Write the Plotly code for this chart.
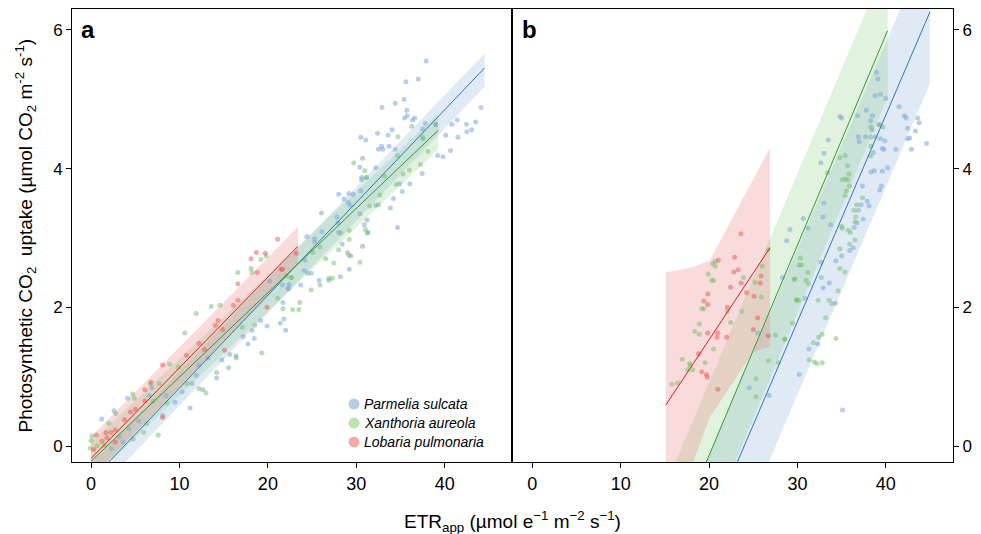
import plotly.graph_objects as go

# ---------------- data ----------------
# panel a : Parmelia sulcata
a_ps_x = [1.2, 2.6, 4.15, 11.2, 8.1, 9.5, 10.3, 12.65, 15.55, 14.2, 16.4, 15.7, 17.75, 18.45, 18.2, 19.9,
          21.4, 22.0, 21.8, 19.2, 21.7, 22.4, 22.3, 20.2, 11.9, 11.4, 6.9, 6.6, 5.4, 4.3, 3.2, 2.3, 3.6,
          8.5, 13.2, 12.2, 14.8, 17.2,
          37.9, 37.0, 35.6, 35.4, 34.4, 32.9, 35.7, 35.75, 35.45, 36.35, 36.6, 37.8, 38.98, 41.4, 40.8,
          42.46, 43.5, 43.05, 42.5, 44.1, 41.5, 40.1, 40.65, 39.8, 39.2, 37.5, 37.55, 34.05, 33.6, 32.4,
          30.5, 31.07, 32.85, 32.5, 33.7, 33.0, 34.4, 32.2, 30.7, 30.4, 30.6, 30.6, 31.15, 37.45, 36.05,
          34.9, 35.2, 34.2, 33.85, 32.2, 30.5, 29.65, 29.15, 28.6, 28.0, 29.1, 29.3, 26.06, 27.8, 27.95,
          30.4, 31.2, 30.9, 31.3, 34.65, 26.1, 25.3, 24.4, 25.3, 28.0, 28.4, 30.7, 29.15, 29.2, 28.2, 26.9,
          25.8, 24.5, 24.9, 24.1, 23.7, 22.3, 21.65, 24.2]
a_ps_y = [0.39, 0.51, 0.69, 0.55, 0.44, 0.63, 0.78, 0.81, 1.13, 0.98, 1.30, 1.32, 1.47, 1.55, 1.67, 1.73,
          1.77, 1.67, 1.83, 1.81, 2.07, 2.33, 2.27, 2.38, 1.02, 0.90, 0.84, 0.73, 0.36, 0.25, 0.13, -0.04, 0.06,
          0.73, 1.27, 1.17, 1.24, 1.58,
          5.55, 5.29, 5.25, 5.00, 4.94, 4.88, 4.84, 4.76, 4.73, 4.70, 4.73, 4.65, 4.64, 4.70, 4.64,
          4.64, 4.67, 4.56, 4.53, 4.88, 4.45, 4.48, 4.26, 4.17, 4.19, 4.57, 4.43, 4.56, 4.48, 4.51,
          4.45, 4.41, 4.32, 4.28, 4.32, 4.28, 4.28, 4.01, 4.15, 4.02, 3.87, 3.84, 3.87, 3.93, 3.78,
          3.78, 3.67, 3.57, 3.43, 3.47, 3.68, 3.63, 3.64, 3.56, 3.63, 3.51, 3.47, 3.36, 3.30, 3.22,
          3.35, 3.26, 3.19, 3.08, 3.15, 3.09, 2.99, 3.02, 2.94, 3.08, 2.91, 2.88, 2.75, 2.55, 2.44, 2.39,
          2.39, 2.49, 2.49, 2.53, 2.32, 2.27, 2.32, 2.68]

# panel a : Xanthoria aureola
a_xa_x = [16.6, 18.1, 18.2, 19.2, 19.8, 13.6, 14.6, 11.9, 10.6, 8.9, 4.7, 4.9, 6.7, 7.7, 2.0, 2.8, 5.95,
          7.6, 4.75, 0.1, 0.0, -0.1, 0.7, 1.5, 12.2, 13.0, 14.2, 16.4, 19.3, 18.5, 17.1, 21.7, 22.8, 23.5,
          23.6, 21.1, 22.6, 22.1, 6.3, 8.6, 7.0, 9.9, 10.85,
          29.7, 30.96, 31.15, 34.7, 34.65, 36.27, 37.5, 37.25, 38.1, 38.98, 36.0, 35.3, 34.5, 33.2, 32.65,
          32.5, 31.5, 31.03, 31.26, 29.19, 29.19, 28.25, 30.4, 29.4, 29.0, 28.0, 27.45, 26.55, 25.9, 25.1,
          26.9, 27.3, 25.9, 24.9, 22.7]
a_xa_y = [2.50, 2.56, 2.50, 2.69, 2.74, 2.01, 2.03, 1.91, 1.63, 1.18, 0.75, 0.69, 0.89, 0.90, 0.33, 0.47, 0.20,
          0.16, 0.10, 0.15, 0.08, -0.03, 0.00, 0.01, 0.83, 0.77, 1.06, 1.27, 1.34, 1.74, 1.71, 1.98, 1.97, 1.97,
          2.07, 2.13, 2.43, 2.45, 0.32, 0.62, 0.65, 1.14, 0.90,
          4.08, 3.97, 3.87, 4.46, 4.19, 4.61, 4.45, 4.06, 4.25, 4.63, 3.98, 3.92, 3.77, 3.89, 3.62,
          3.48, 3.46, 3.12, 3.07, 3.11, 2.98, 3.07, 2.65, 2.74, 2.79, 2.83, 2.64, 2.70, 2.87, 2.79,
          2.42, 2.42, 2.32, 2.25, 2.43]

# panel a : Lobaria pulmonaria
a_lp_x = [21.1, 18.7, 18.1, 19.7, 18.8, 16.6, 16.6, 16.1, 14.35, 14.05, 14.9, 12.2, 12.85, 15.1, 10.8, 8.1,
          6.1, 6.1, 5.0, 4.45, 3.8, 2.75, 2.26, 1.7, 0.6, 1.24, 1.8, 2.75, 0.3, 8.1, 21.5, 19.9, 6.8, 23.2, 21.65]
a_lp_y = [2.98, 2.79, 2.70, 2.78, 2.50, 2.34, 2.10, 2.03, 1.81, 1.74, 1.68, 1.48, 1.39, 1.38, 1.31, 1.17,
          0.81, 0.65, 0.53, 0.49, 0.38, 0.23, 0.20, 0.19, 0.16, 0.07, 0.12, 0.06, -0.05, 0.41, 2.55, 2.00, 0.92, 2.78, 2.55]

# panel b : Parmelia sulcata
b_ps_x = [29.15, 28.78, 28.3, 25.5, 24.55, 26.8, 30.2,
          38.95, 39.1, 38.8, 39.4, 40.0, 41.5, 42.1, 42.3, 43.6, 43.77, 42.45, 43.35, 42.7, 42.45, 42.9,
          44.6, 41.13, 39.9, 39.4, 39.6, 39.8, 37.8, 38.5, 36.8, 38.3, 39.3, 38.45, 37.7, 36.88, 37.0, 38.8,
          38.6, 38.3, 38.7, 39.6, 40.2, 39.5, 39.3, 37.35, 37.9, 38.1, 37.2, 37.44, 36.76, 36.4, 36.3, 35.9,
          34.35, 35.0, 32.65, 33.6, 32.9, 30.85, 34.3, 32.3, 31.3, 33.75, 32.9, 33.0, 31.2, 30.66, 33.5,
          32.65, 33.0, 34.8, 35.0, 36.9, 35.1]
b_ps_y = [3.12, 2.96, 2.43, 1.63, 0.84, 0.73, 1.03,
          5.39, 5.29, 5.05, 5.07, 5.01, 4.89, 4.76, 4.73, 4.73, 4.66, 4.58, 4.54, 4.44, 4.43, 4.28,
          4.36, 4.28, 4.40, 4.43, 4.29, 4.28, 4.84, 4.76, 4.76, 4.69, 4.63, 4.56, 4.46, 4.46, 4.39, 4.46,
          4.23, 3.95, 3.97, 3.96, 4.01, 3.75, 3.69, 3.75, 3.53, 3.46, 3.48, 3.27, 3.22, 3.15, 2.86, 2.82,
          2.67, 2.74, 2.65, 2.35, 2.28, 2.13, 2.06, 1.47, 1.40, 3.19, 3.30, 3.50, 3.14, 3.28, 4.41,
          4.08, 4.22, 4.75, 4.73, 3.40, 0.52]

# panel b : Xanthoria aureola
b_xa_x = [20.4, 20.7, 20.7, 19.9, 20.3, 20.5, 19.17, 19.4, 18.9, 18.4, 18.9, 16.98, 17.8, 17.85, 17.6, 18.15,
          19.55, 20.5, 15.8, 16.45, 22.45, 23.7, 23.9, 25.2, 25.9, 26.0, 26.7, 22.07, 25.3, 25.3, 26.7, 27.5,
          28.6, 29.9, 29.65, 30.2, 27.85,
          38.3, 38.3, 38.3, 38.3, 39.7, 39.2, 35.4, 34.8, 35.67, 35.85, 35.05, 35.4, 35.67, 35.9, 35.56, 35.4,
          37.37, 36.7, 36.4, 36.6, 36.5, 35.0, 35.07, 35.74, 36.0, 36.5, 35.9, 34.8, 34.8, 35.37, 32.7, 31.15,
          30.96, 31.26, 29.7, 30.35, 30.45, 29.9, 30.1, 32.35, 33.6, 33.9, 34.6, 33.2, 29.45, 32.8, 32.4, 34.35,
          28.55, 31.8, 31.3, 31.9, 32.2, 32.8, 33.4]
b_xa_y = [2.63, 2.66, 2.59, 2.48, 2.39, 2.39, 1.98, 1.98, 1.76, 1.65, 1.61, 1.25, 1.19, 1.16, 1.10, 1.10,
          1.20, 1.40, 0.89, 0.91, 1.78, 1.94, 2.43, 2.36, 2.15, 2.59, 2.83, 1.94, 0.97, 0.71, 1.23, 1.60,
          1.54, 2.11, 2.40, 2.61, 1.20,
          4.60, 4.45, 4.32, 4.18, 4.60, 4.63, 4.19, 4.16, 4.04, 3.92, 3.84, 3.85, 3.84, 3.75, 3.68, 3.61,
          3.58, 3.48, 3.40, 3.30, 3.23, 3.17, 3.14, 3.11, 3.08, 2.97, 2.91, 2.84, 2.56, 2.51, 2.43, 2.50,
          2.39, 2.34, 2.41, 2.71, 2.61, 2.10, 2.10, 2.10, 2.10, 2.05, 2.24, 1.85, 1.77, 1.61, 1.57, 1.55,
          1.54, 1.49, 1.24, 1.21, 1.19, 1.20, 3.94]

# panel b : Lobaria pulmonaria
b_lp_x = [23.6, 22.9, 21.05, 23.3, 22.8, 23.6, 22.45, 24.25, 25.8, 25.9, 25.1, 19.85, 19.4, 19.85, 22.07,
          25.5, 25.0, 26.7, 21.0, 20.9, 19.85, 22.0, 18.8, 19.17, 19.7, 19.8, 21.0]
b_lp_y = [3.06, 2.72, 2.68, 2.54, 2.51, 2.35, 2.29, 2.21, 2.35, 2.45, 2.16, 2.19, 2.09, 2.04, 2.00,
          1.85, 1.68, 1.59, 1.63, 1.57, 1.63, 1.57, 1.33, 1.07, 1.03, 0.99, 0.82]

# fitted lines and their bands (x, fit, lower, upper)
a_ps_fx, a_ps_fy, a_ps_lo, a_ps_hi = [0, 44.5], [-0.50, 5.45], [-0.75, 5.18], [-0.25, 5.66]
a_xa_fx, a_xa_fy, a_xa_lo, a_xa_hi = [0, 39.25], [-0.22, 4.55], [-0.48, 4.27], [0.05, 4.79]
a_lp_fx, a_lp_fy, a_lp_lo, a_lp_hi = [0, 23.4], [-0.18, 2.88], [-0.46, 2.62], [0.13, 3.16]

b_ps_fx, b_ps_fy = [22.5, 45.0], [-0.44, 6.26]
b_ps_bx, b_ps_lo, b_ps_hi = [19.0, 45.0], [-2.55, 5.23], [-0.43, 7.3]
b_xa_fx, b_xa_fy = [19.0, 40.2], [-0.44, 5.99]
b_xa_bx, b_xa_lo, b_xa_hi = [15.5, 40.2], [-2.5, 5.03], [-0.44, 7.0]
b_lp_fx, b_lp_fy = [15.1, 26.9], [0.59, 2.86]
b_lp_bx, b_lp_lo, b_lp_hi = [15.1, 18.2, 20.1, 25.0, 26.9], [-1.28, -0.23, 0.42, 1.36, 1.43], [2.5, 2.58, 2.68, 3.85, 4.3]

species = ['Parmelia sulcata', 'Xanthoria aureola', 'Lobaria pulmonaria']

# ---------------- styles ----------------
band_col = ['rgba(140,180,220,0.28)', 'rgba(120,200,110,0.22)', 'rgba(235,110,110,0.25)']
pt_col = ['rgba(125,168,215,0.55)', 'rgba(115,190,105,0.5)', 'rgba(232,85,85,0.5)']
line_col = ['#2f74bf', '#2f9a2f', '#e31a1c']
leg_col = ['#b3cde3', '#bde3b5', '#f5aaaa']


def band(bx, lo, hi, col, xa, ya):
    return go.Scatter(x=list(bx) + list(bx)[::-1], y=list(hi) + list(lo)[::-1], fill='toself',
                      fillcolor=col, line=dict(width=0), mode='lines', hoverinfo='skip',
                      showlegend=False, xaxis=xa, yaxis=ya)


fig = go.Figure()

# bands
fig.add_trace(band(a_ps_fx, a_ps_lo, a_ps_hi, band_col[0], 'x', 'y'))
fig.add_trace(band(a_xa_fx, a_xa_lo, a_xa_hi, band_col[1], 'x', 'y'))
fig.add_trace(band(a_lp_fx, a_lp_lo, a_lp_hi, band_col[2], 'x', 'y'))
fig.add_trace(band(b_ps_bx, b_ps_lo, b_ps_hi, band_col[0], 'x2', 'y2'))
fig.add_trace(band(b_xa_bx, b_xa_lo, b_xa_hi, band_col[1], 'x2', 'y2'))
fig.add_trace(band(b_lp_bx, b_lp_lo, b_lp_hi, band_col[2], 'x2', 'y2'))

# points
pts = [(a_ps_x, a_ps_y, 0, 'x', 'y'), (a_xa_x, a_xa_y, 1, 'x', 'y'), (a_lp_x, a_lp_y, 2, 'x', 'y'),
       (b_ps_x, b_ps_y, 0, 'x2', 'y2'), (b_xa_x, b_xa_y, 1, 'x2', 'y2'), (b_lp_x, b_lp_y, 2, 'x2', 'y2')]
for px, py, i, xa, ya in pts:
    fig.add_trace(go.Scatter(x=px, y=py, mode='markers', showlegend=False, xaxis=xa, yaxis=ya,
                             marker=dict(size=5, color=pt_col[i], line=dict(width=0))))

# fit lines
fits = [(a_ps_fx, a_ps_fy, 0, 'x', 'y'), (a_xa_fx, a_xa_fy, 1, 'x', 'y'), (a_lp_fx, a_lp_fy, 2, 'x', 'y'),
        (b_ps_fx, b_ps_fy, 0, 'x2', 'y2'), (b_xa_fx, b_xa_fy, 1, 'x2', 'y2'), (b_lp_fx, b_lp_fy, 2, 'x2', 'y2')]
for fx, fy, i, xa, ya in fits:
    fig.add_trace(go.Scatter(x=fx, y=fy, mode='lines', showlegend=False, xaxis=xa, yaxis=ya,
                             line=dict(color=line_col[i], width=1)))

# legend (drawn by hand so the dot sits right next to the text)
leg_rows = [0.128, 0.0861, 0.0442]
shapes = []
annotations = []
for i, name in enumerate(species):
    shapes.append(dict(type='circle', xref='paper', yref='paper', xsizemode='pixel', ysizemode='pixel',
                       xanchor=0.3201, yanchor=leg_rows[i], x0=-5.5, x1=5.5, y0=-5.5, y1=5.5,
                       fillcolor=leg_col[i], line=dict(width=0)))
    annotations.append(dict(text='<i>' + name + '</i>', x=0.3292, y=leg_rows[i], xref='paper', yref='paper',
                            xanchor='left', yanchor='middle', showarrow=False, font=dict(size=14)))

narrow = 'Liberation Sans Narrow, Arial Narrow, Liberation Sans, Arial'
ax_common = dict(showline=True, mirror=True, linecolor='black', linewidth=1, showgrid=False,
                 zeroline=False, ticks='outside', ticklen=5, tickcolor='black', tickwidth=1)

annotations += [
    dict(text='<b>a</b>', x=0.008, y=0.99, xref='paper', yref='paper', xanchor='left', yanchor='top',
         showarrow=False, font=dict(size=24)),
    dict(text='<b>b</b>', x=0.508, y=0.99, xref='paper', yref='paper', xanchor='left', yanchor='top',
         showarrow=False, font=dict(size=24)),
    dict(text='ETR<sub>app</sub> (µmol e<sup>−1</sup> m<sup>−2</sup> s<sup>−1</sup>)', x=0.5, y=-0.132,
         xref='paper', yref='paper', xanchor='center', yanchor='middle', showarrow=False,
         font=dict(family=narrow, size=19)),
    dict(text='Photosynthetic CO<sub>2</sub>  uptake (µmol CO<sub>2</sub> m<sup>-2</sup> s<sup>-1</sup>)',
         x=-0.0533, y=0.5, xref='paper', yref='paper', xanchor='center', yanchor='middle', textangle=-90,
         showarrow=False, font=dict(size=19)),
]

# the page adds an 8 px body margin, so the figure is 8 px smaller and margins shifted
fig.update_layout(
    width=973, height=526, plot_bgcolor='white', paper_bgcolor='white',
    margin=dict(l=64, r=28, t=1, b=72),
    font=dict(family='Liberation Sans, Arial', color='black'),
    showlegend=False,
    xaxis=dict(domain=[0, 0.4994], range=[-2.15, 47.6], tickvals=[0, 10, 20, 30, 40],
               tickfont=dict(family=narrow, size=18), anchor='y', **ax_common),
    xaxis2=dict(domain=[0.4994, 1], range=[-2.3, 47.6], tickvals=[0, 10, 20, 30, 40],
                tickfont=dict(family=narrow, size=18), anchor='y2', **ax_common),
    yaxis=dict(domain=[0, 1], range=[-0.23, 6.3], tickvals=[0, 2, 4, 6], tickfont=dict(size=17),
               anchor='x', **ax_common),
    yaxis2=dict(domain=[0, 1], range=[-0.23, 6.3], tickvals=[0, 2, 4, 6], tickfont=dict(size=17),
                anchor='x2', side='right', **ax_common),
    shapes=shapes,
    annotations=annotations,
)

fig.write_html("out.html")
